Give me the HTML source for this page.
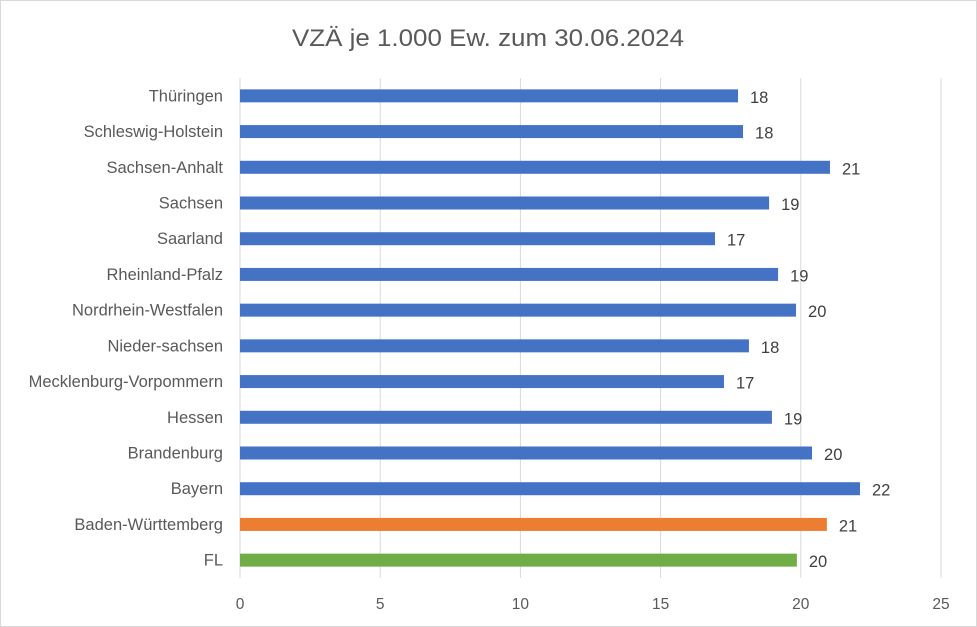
<!DOCTYPE html>
<html><head><meta charset="utf-8"><style>
body{margin:0;background:#fff;}
svg{display:block;font-family:"Liberation Sans",sans-serif;}
</style></head><body>
<svg id="chart" width="977" height="627">
<rect x="0.5" y="0.5" width="976" height="626" fill="#fff" stroke="#d9d9d9"/>
<text x="488" y="46" text-anchor="middle" font-size="24" textLength="392" lengthAdjust="spacingAndGlyphs" fill="#595959">VZÄ je 1.000 Ew. zum 30.06.2024</text>
<g id="grid"></g><g id="bars"></g>
</svg>
<script>
const categories=["Thüringen","Schleswig-Holstein","Sachsen-Anhalt","Sachsen","Saarland","Rheinland-Pfalz","Nordrhein-Westfalen","Nieder-sachsen","Mecklenburg-Vorpommern","Hessen","Brandenburg","Bayern","Baden-Württemberg","FL"];
const values=[17.76,17.94,21.04,18.87,16.94,19.19,19.83,18.15,17.26,18.97,20.4,22.11,20.93,19.86];
const valueLabels=["18","18","21","19","17","19","20","18","17","19","20","22","21","20"];
const barColors=["#4472c4","#4472c4","#4472c4","#4472c4","#4472c4","#4472c4","#4472c4","#4472c4","#4472c4","#4472c4","#4472c4","#4472c4","#ed7d31","#70ad47"];
const ticks=[0,5,10,15,20,25];
const NS="http://www.w3.org/2000/svg";
const x0=240,x1=941,plotTop=78,plotBottom=578,xmax=25;
const xs=v=>x0+v/xmax*(x1-x0);
const band=(plotBottom-plotTop)/categories.length;
const yc=i=>plotTop+band*(i+0.5);
function mk(t,a,p){const e=document.createElementNS(NS,t);for(const k in a)e.setAttribute(k,a[k]);p.appendChild(e);return e;}
const g=document.getElementById('grid'),b=document.getElementById('bars');
ticks.forEach(t=>{
 const l=mk('line',{x1:xs(t),x2:xs(t),y1:plotTop,y2:plotBottom,stroke:'#d9d9d9','stroke-width':1},g);
 
 
 const tx=mk('text',{x:xs(t),y:609,'text-anchor':'middle','font-size':15.5,fill:'#595959'},g);
 tx.textContent=t;
 
 
});
categories.forEach((c,i)=>{
 const y=yc(i);
 const r=mk('rect',{x:x0,y:y-6.5,width:xs(values[i])-x0,height:13,fill:barColors[i]},b);
 
 
 const lb=mk('text',{x:223,y:y+5.5,'text-anchor':'end','font-size':16.5,fill:'#595959'},b);
 lb.textContent=c;
 
 
 const vl=mk('text',{x:xs(values[i])+12,y:y+7,'font-size':16.5,fill:'#404040'},b);
 vl.textContent=valueLabels[i];
 
 
});
</script>
</body></html>
